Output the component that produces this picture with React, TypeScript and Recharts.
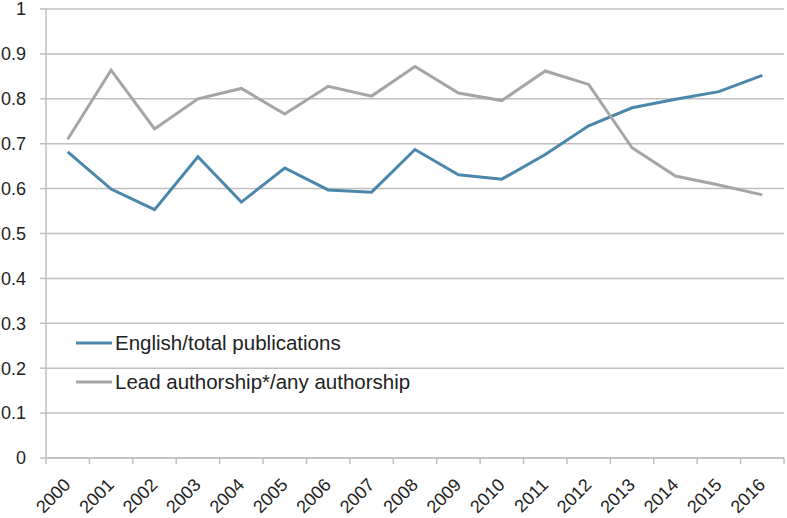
import React from 'react';
import { ComposedChart, Line, XAxis, YAxis, CartesianGrid, Legend } from 'recharts';

const years = ['2000','2001','2002','2003','2004','2005','2006','2007','2008','2009','2010','2011','2012','2013','2014','2015','2016'];
const englishShare = [0.682,0.599,0.553,0.671,0.570,0.646,0.597,0.592,0.687,0.631,0.621,0.676,0.740,0.780,0.799,0.816,0.852];
const leadShare = [0.710,0.864,0.733,0.800,0.823,0.766,0.828,0.806,0.872,0.813,0.796,0.862,0.832,0.691,0.628,0.608,0.586];
const yTicks = [0,0.1,0.2,0.3,0.4,0.5,0.6,0.7,0.8,0.9,1];

const data = years.map((y, i) => ({ year: y, english: englishShare[i], lead: leadShare[i] }));

const BLUE = '#4a87aa';
const GRAY = '#a5a5a5';
const AXIS = '#bfbfbf';
const FONT = '"Liberation Sans", Arial, sans-serif';

const XTick = (props: any) => {
  const { x, y, payload, index } = props;
  const half = payload && typeof payload.offset === 'number' ? payload.offset : 0;
  const ax = x + 4;
  const ay = y + 28;
  const isLast = index === years.length - 1;
  return (
    <g>
      <line x1={x - half} y1={y} x2={x - half} y2={y + 6} stroke={AXIS} strokeWidth={1.5} />
      {isLast && <line x1={x + half} y1={y} x2={x + half} y2={y + 6} stroke={AXIS} strokeWidth={1.5} />}
      <text x={ax} y={ay} transform={`rotate(-45, ${ax}, ${ay})`} textAnchor="end" fontSize={18} fill="#222" fontFamily={FONT}>
        {payload.value}
      </text>
    </g>
  );
};

const LegendContent = (props: any) => {
  const { payload } = props;
  return (
    <div style={{ fontFamily: FONT, fontSize: 20.5, color: '#222', whiteSpace: 'nowrap' }}>
      {(payload || []).map((p: any) => (
        <div key={p.value} style={{ display: 'flex', alignItems: 'center', height: 39 }}>
          <svg width={37} height={6} style={{ marginRight: 2 }}>
            <line x1={0} y1={3} x2={36} y2={3} stroke={p.color} strokeWidth={3} />
          </svg>
          <span>{p.value}</span>
        </div>
      ))}
    </div>
  );
};

export default function App() {
  return (
    <div style={{ position: 'absolute', left: 0, top: 0, background: '#fff' }}>
      <ComposedChart width={787} height={518} data={data} margin={{ top: 9, right: 3, bottom: 0, left: 0 }}>
        <CartesianGrid vertical={false} stroke={AXIS} strokeWidth={1.5} />
        <XAxis
          dataKey="year"
          scale="band"
          height={60}
          axisLine={{ stroke: AXIS, strokeWidth: 1.5 }}
          tickLine={false}
          tickSize={0}
          tickMargin={0}
          interval={0}
          tick={<XTick />}
        />
        <YAxis
          domain={[0, 1]}
          ticks={yTicks}
          width={46}
          axisLine={{ stroke: AXIS, strokeWidth: 1.5 }}
          tickLine={{ stroke: AXIS, strokeWidth: 1.5 }}
          tickSize={6}
          tickMargin={14}
          tick={{ fontSize: 18, fill: '#222', fontFamily: FONT }}
          interval={0}
        />
        <Legend
          layout="vertical"
          verticalAlign="middle"
          align="center"
          wrapperStyle={{ left: 76, top: 323, width: 'auto' }}
          content={<LegendContent />}
        />
        <Line dataKey="english" name="English/total publications" stroke={BLUE} strokeWidth={3} dot={false} isAnimationActive={false} />
        <Line dataKey="lead" name="Lead authorship*/any authorship" stroke={GRAY} strokeWidth={3} dot={false} isAnimationActive={false} />
      </ComposedChart>
    </div>
  );
}
